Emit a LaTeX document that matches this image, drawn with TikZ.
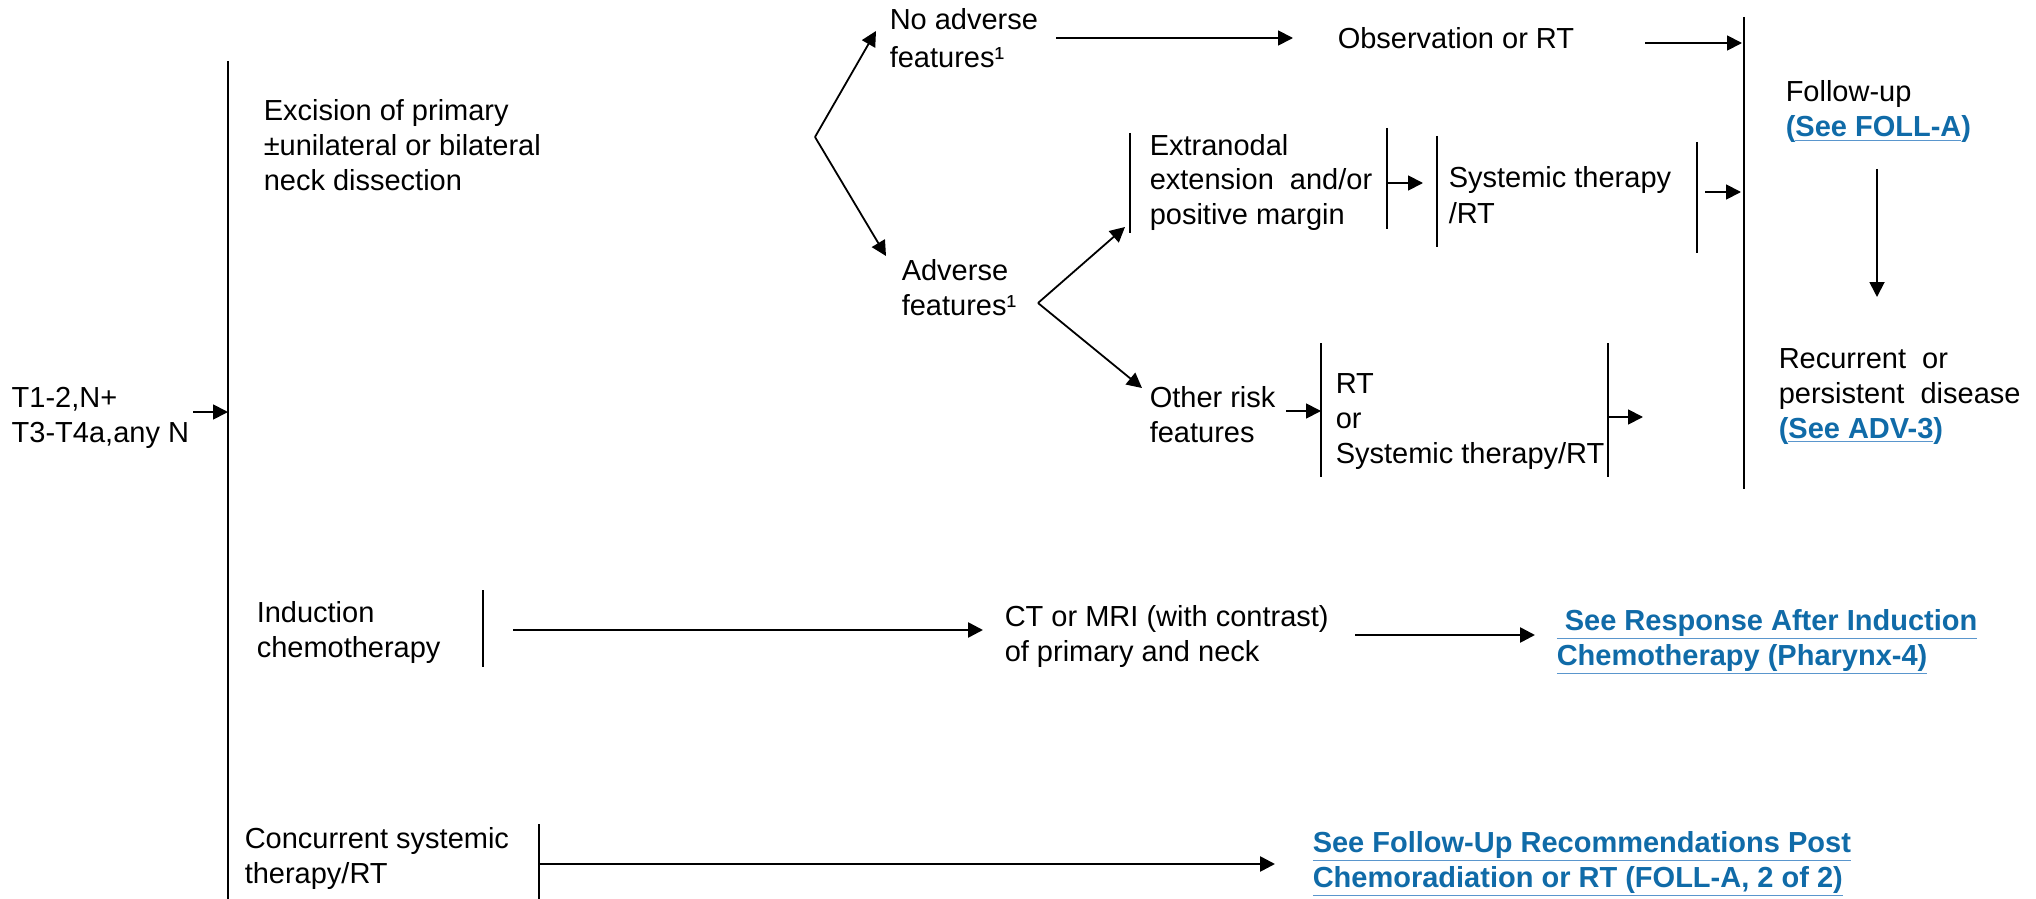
\documentclass[tikz,border=0pt]{standalone}
\usepackage{fontspec}
\setmainfont{Liberation Sans}
\usetikzlibrary{arrows.meta}
\definecolor{linkblue}{RGB}{16,107,168}
\definecolor{linkline}{RGB}{90,150,205}
\newcommand{\linkul}[1]{{\color{linkline}\underline{\color{linkblue}#1}}}

\tikzset{every picture/.style={line width=0.75pt}}
\tikzset{
  txt/.style={anchor=base west,inner sep=0pt,align=left,font=\fontsize{14.5}{17.5}\selectfont},
  lnk/.style={txt,text=linkblue,font=\fontsize{14.5}{17.5}\selectfont\bfseries},
  arr/.style={line width=0.9pt,-{Triangle[length=7.5pt,width=7.5pt]}},
  thickarr/.style={arr,line width=1.3pt},
  bar/.style={line width=0.6pt},
}

\begin{document}
\begin{tikzpicture}[x=0.5pt,y=0.5pt,yscale=-1,xscale=1]
\useasboundingbox (0,0) rectangle (2036,899);

% Text Node (placed at the baseline of its last line)
\node (stage) [txt] at (11,442) {T1-2,N+\\T3-T4a,any N};
% Text Node
\node (excis) [txt] at (263,191) {Excision of primary\\±unilateral or bilateral\\neck dissection};
% Text Node
\node (noadv) [txt] at (889,68) {No adverse\\[1.5pt]features¹};
% Text Node
\node (adv) [txt] at (901,315) {Adverse\\features¹};
% Text Node
\node (obs) [txt] at (1337,49) {Observation or RT};
% Text Node
\node (extra) [txt] at (1149,225) {Extranodal\\extension\ \ and/or\\positive margin};
% Text Node
\node (systrt) [txt] at (1448,223) {Systemic therapy\\/RT};
% Text Node
\node (other) [txt] at (1149,442) {Other risk\\features};
% Text Node
\node (rtor) [txt] at (1335,463) {RT\\or\\Systemic therapy/RT};
% Text Node
\node (follow) [txt] at (1785,137) {Follow-up\\{\bfseries\color{linkblue}(\linkul{See FOLL-A})}};
% Text Node
\node (recur) [txt] at (1778,438) {Recurrent\ \ or\\persistent\ \ disease\\{\bfseries\color{linkblue}(\linkul{See ADV-3})}};
% Text Node
\node (induc) [txt] at (256,657) {Induction\\chemotherapy};
% Text Node
\node (ctmri) [txt] at (1004,661) {CT or MRI (with contrast)\\of primary and neck};
% Text Node
\node (resp) [lnk] at (1556,665) {\linkul{\ See Response After Induction}\\\linkul{Chemotherapy (Pharynx-4)}};
% Text Node
\node (concur) [txt] at (244,883) {Concurrent systemic\\therapy/RT};
% Text Node
\node (postfu) [lnk] at (1312,887) {\linkul{See Follow-Up Recommendations Post}\\\linkul{Chemoradiation or RT (FOLL-A, 2 of 2)}};

%Straight Lines (main brackets)
\coordinate (mainT) at (228,61);
\coordinate (mainB) at (228,899);
\draw [bar] (mainT) -- (mainB);
\coordinate (fuT) at (1744,17);
\coordinate (fuB) at (1744,489);
\draw [bar] (fuT) -- (fuB);

%Straight Lines (stage into treatments)
\coordinate (stageR) at (193,412);
\coordinate (mainIn) at (228,412);
\draw [arr] (stageR) -- (mainIn);

%Straight Lines (first fork)
\coordinate (fork1) at (815,137);
\coordinate (noadvIn) at (876,31);
\coordinate (advIn) at (886,256);
\draw [arr] (fork1) -- (noadvIn);
\draw [arr] (fork1) -- (advIn);

%Straight Lines (no adverse path)
\coordinate (noadvR) at (1056,38);
\coordinate (obsL) at (1293,38);
\draw [arr] (noadvR) -- (obsL);
\coordinate (obsR) at (1645,43);
\coordinate (fuIn1) at (1742,43);
\draw [arr] (obsR) -- (fuIn1);

%Straight Lines (second fork)
\coordinate (fork2) at (1038,303);
\coordinate (extraIn) at (1125,227);
\coordinate (otherIn) at (1142,388);
\draw [arr] (fork2) -- (extraIn);
\draw [arr] (fork2) -- (otherIn);

%Straight Lines (extranodal path)
\draw [bar] (1130,133) -- (1130,233);
\draw [bar] (1387,128) -- (1387,229);
\coordinate (extraR) at (1387,183);
\coordinate (systL) at (1423,183);
\draw [arr] (extraR) -- (systL);
\draw [bar] (1437,136) -- (1437,247);
\draw [bar] (1697,142) -- (1697,253);
\coordinate (systR) at (1705,192);
\coordinate (fuIn2) at (1741,192);
\draw [arr] (systR) -- (fuIn2);

%Straight Lines (other risk path)
\coordinate (otherR) at (1286,411);
\coordinate (rtorL) at (1321,411);
\draw [arr] (otherR) -- (rtorL);
\draw [bar] (1321,343) -- (1321,477);
\draw [bar] (1608,343) -- (1608,477);
\coordinate (rtorR) at (1608,417);
\coordinate (fuIn3) at (1643,417);
\draw [arr] (rtorR) -- (fuIn3);

%Straight Lines (follow-up to recurrence)
\coordinate (followB) at (1877,169);
\coordinate (recurT) at (1877,297);
\draw [arr] (followB) -- (recurT);

%Straight Lines (induction path)
\draw [bar] (483,590) -- (483,667);
\coordinate (inducR) at (513,630);
\coordinate (ctmriL) at (983,630);
\draw [thickarr] (inducR) -- (ctmriL);
\coordinate (ctmriR) at (1355,635);
\coordinate (respL) at (1535,635);
\draw [thickarr] (ctmriR) -- (respL);

%Straight Lines (concurrent path)
\draw [bar] (539,824) -- (539,899);
\coordinate (concurR) at (539,864);
\coordinate (postfuL) at (1275,864);
\draw [thickarr] (concurR) -- (postfuL);

\end{tikzpicture}
\end{document}
